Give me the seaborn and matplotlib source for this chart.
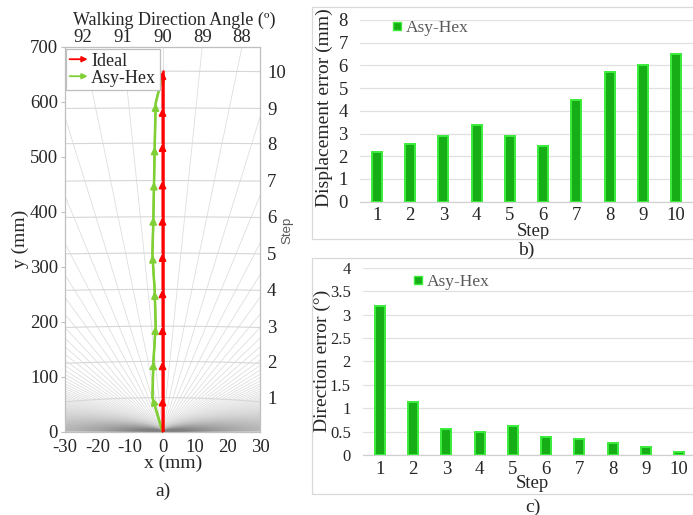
import numpy as np
import pandas as pd
import matplotlib
matplotlib.use("Agg")
import matplotlib.pyplot as plt
import seaborn as sns
from matplotlib.patches import FancyArrowPatch, Rectangle
from matplotlib.legend_handler import HandlerPatch
from matplotlib.lines import Line2D

# ---------------- data ----------------
steps = [1, 2, 3, 4, 5, 6, 7, 8, 9, 10]
ideal_x = [0, 0, 0, 0, 0, 0, 0, 0, 0, 0]
ideal_y = [62, 128, 192, 259, 325, 391, 457, 525, 589, 656]
asy_x = [-3.1, -2.8, -2.1, -2.4, -3.1, -2.8, -2.6, -2.4, -2.1, 0.2]
asy_y = [62, 128, 192, 256, 322, 391, 455, 519, 598, 652]
angle_ticks = [92, 91, 90, 89, 88]
disp_err = [2.2, 2.55, 2.9, 3.37, 2.9, 2.46, 4.46, 5.7, 6.02, 6.5]
dir_err = [3.19, 1.14, 0.55, 0.50, 0.63, 0.38, 0.35, 0.26, 0.18, 0.07]

sns.set_theme(style="white")
plt.rcParams["font.family"] = ["Liberation Serif", "DejaVu Serif"]
plt.rcParams["font.size"] = 14
plt.rcParams["axes.unicode_minus"] = False
plt.rcParams["text.color"] = "#262626"
plt.rcParams["axes.labelcolor"] = "#262626"
plt.rcParams["xtick.color"] = "#262626"
plt.rcParams["ytick.color"] = "#262626"
plt.rcParams["xtick.labelsize"] = 13.5
plt.rcParams["ytick.labelsize"] = 13.5
plt.rcParams["axes.labelsize"] = 14

W, H = 693, 515
fig = plt.figure(figsize=(W / 100, H / 100), dpi=100)


def fr(x0, y0, x1, y1):
    return [x0 / W, (H - y1) / H, (x1 - x0) / W, (y1 - y0) / H]


RED = "#ff0000"
LGREEN = "#7fcf35"
SPINE = "#bfbfbf"

# ---------------- panel a ----------------
axL = fig.add_axes(fr(65, 47, 260, 431.7))
axL.set_xlim(-30, 30)
axL.set_ylim(0, 700)

# radial angle lines and step circles (background grid)
for a in range(0, 181):
    t = np.radians(a)
    axL.plot([0, 2000 * np.cos(t)], [0, 2000 * np.sin(t)], color="#808080",
             lw=0.6, alpha=0.26, zorder=0.5)
tt = np.linspace(0, np.pi, 2000)
for r in ideal_y:
    axL.plot(r * np.cos(tt), r * np.sin(tt), color="#d6d6d6", lw=0.8, zorder=0.6)

px_i = [0] + ideal_x
py_i = [0] + ideal_y
px_a = [0] + asy_x
py_a = [0] + asy_y
sns.lineplot(x=px_a, y=py_a, sort=False, estimator=None, color=LGREEN, lw=1.8,
             ax=axL, zorder=3)
sns.lineplot(x=px_i, y=py_i, sort=False, estimator=None, color=RED, lw=1.8,
             ax=axL, zorder=4)
for xs, ys, c, z in [(px_a, py_a, LGREEN, 3), (px_i, py_i, RED, 4)]:
    for i in range(len(xs) - 1):
        axL.annotate("", xy=(xs[i + 1], ys[i + 1]), xytext=(xs[i], ys[i]),
                     arrowprops=dict(arrowstyle="-|>", color=c, lw=1.5,
                                     mutation_scale=10, shrinkA=0, shrinkB=0),
                     zorder=z)

axL.set_xticks([-30, -20, -10, 0, 10, 20, 30])
axL.set_yticks(range(0, 701, 100))
axL.set_xlabel("x (mm)")
axL.xaxis.set_label_coords((173 - 65) / 195, (431.7 - 463) / 384.7)
axL.xaxis.label.set_va("center")
axL.set_ylabel("y (mm)")
axL.yaxis.set_label_coords((20 - 65) / 195, 0.5)
axL.yaxis.label.set_va("center")
axL.tick_params(axis="y", length=3, width=0.8, color=SPINE, pad=2)
axL.tick_params(axis="x", length=0, pad=5)
for s in axL.spines.values():
    s.set_color(SPINE)
    s.set_linewidth(0.9)


class HandlerArrow(HandlerPatch):
    def create_artists(self, legend, orig_handle, xdescent, ydescent, width,
                       height, fontsize, trans):
        p = FancyArrowPatch((-xdescent, height / 2 - ydescent),
                            (width - xdescent, height / 2 - ydescent),
                            arrowstyle="-|>", mutation_scale=8, lw=1.3,
                            color=orig_handle.get_edgecolor(), shrinkA=0, shrinkB=0)
        p.set_transform(trans)
        return [p]


h1 = FancyArrowPatch((0, 0), (1, 0), color=RED)
h2 = FancyArrowPatch((0, 0), (1, 0), color=LGREEN)
leg = axL.legend([h1, h2], ["Ideal", "Asy-Hex"],
                 handler_map={FancyArrowPatch: HandlerArrow()},
                 loc="upper left", bbox_to_anchor=(0.005, 0.995), borderaxespad=0,
                 frameon=True, fancybox=False, edgecolor=SPINE, framealpha=1,
                 handlelength=1.0, handletextpad=0.2, labelspacing=0.0,
                 borderpad=0.2, fontsize=13)
leg.get_frame().set_linewidth(0.9)
leg.set_zorder(10)

axT = axL.twiny()
axT.set_xlim(-30, 30)
axT.set_xticks([700 / np.tan(np.radians(a)) for a in angle_ticks])
axT.set_xticklabels([str(a) for a in angle_ticks])
axT.tick_params(axis="x", length=0, pad=1)
axT.set_xlabel("Walking Direction Angle (º)", fontsize=13)
axT.xaxis.set_label_coords((174 - 65) / 195, (431.7 - 20) / 384.7)
axT.xaxis.label.set_va("center")
for s in axT.spines.values():
    s.set_visible(False)

axR = axL.twinx()
axR.set_ylim(0, 700)
axR.set_yticks(ideal_y)
axR.set_yticklabels([str(s) for s in steps])
axR.tick_params(axis="y", length=0, pad=5)
axR.set_ylabel("Step", family=["Liberation Sans", "DejaVu Sans"], fontsize=9.5,
               color="#595959", rotation=90)
axR.yaxis.set_label_coords((287 - 65) / 195, (431.7 - 230) / 384.7)
axR.yaxis.label.set_va("center")
for s in axR.spines.values():
    s.set_visible(False)

fig.text(163 / W, 1 - 491 / H, "a)", ha="center", va="center", fontsize=14)

# ---------------- panels b, c ----------------
BAR_FACE = "#17ad17"
BAR_EDGE = "#3cec3c"


def bar_panel(rect, values, ylim, yticks, yticklabels, ylabel, leg_xy, ytsize):
    ax = fig.add_axes(rect)
    df = pd.DataFrame({"Step": steps, "val": values})
    sns.barplot(data=df, x="Step", y="val", color=BAR_FACE, width=0.3,
                edgecolor=BAR_EDGE, linewidth=1.4, saturation=1, ax=ax,
                label="Asy-Hex", zorder=3)
    ax.set_xlim(-0.5, 9.5)
    ax.set_ylim(*ylim)
    ax.set_yticks(yticks)
    ax.set_yticklabels(yticklabels)
    ax.set_axisbelow(True)
    ax.yaxis.grid(True, color="#e0e0e0", lw=0.9)
    ax.xaxis.grid(False)
    for k in ["left", "right", "top"]:
        ax.spines[k].set_visible(False)
    ax.spines["bottom"].set_color("#d0d0d0")
    ax.spines["bottom"].set_linewidth(0.9)
    ax.set_xticks(np.arange(-0.5, 10, 1), minor=True)
    ax.tick_params(axis="x", which="major", length=0, pad=4)
    ax.tick_params(axis="x", which="minor", length=4, color="#d0d0d0", width=0.8)
    ax.tick_params(axis="y", length=0, pad=9, labelsize=ytsize)
    ax.set_ylabel(ylabel)
    ax.set_xlabel("Step", fontsize=13.5)
    ax.xaxis.label.set_va("center")
    ax.yaxis.label.set_va("center")
    lh = Line2D([0], [0], marker="s", color="none", markerfacecolor=BAR_FACE,
                markeredgecolor=BAR_EDGE, markersize=5.5)
    ax.legend([lh], ["Asy-Hex"], loc="center left", bbox_to_anchor=leg_xy,
              frameon=False, borderpad=0, borderaxespad=0, handlelength=0.6,
              handletextpad=0.2, fontsize=12.5, labelcolor="#595959")
    return ax


axB = bar_panel(fr(360.4, 20, 692.6, 201.7), disp_err, (0, 8), range(0, 9),
                [str(v) for v in range(0, 9)], "Displacement error (mm)",
                (0.095, 0.956), 13.5)
axB.yaxis.set_label_coords((324 - 360.4) / 332.2, 0.52)
axB.xaxis.set_label_coords((533 - 360.4) / 332.2, (201.7 - 231) / 181.7)

ticks_c = [0, 0.5, 1, 1.5, 2, 2.5, 3, 3.5, 4]
axC = bar_panel(fr(363.4, 267.7, 695.6, 455), dir_err, (0, 4), ticks_c,
                ["0", "0.5", "1", "1.5", "2", "2.5", "3", "3.5", "4"],
                "Direction error (°)", (0.15, 0.924), 12)
axC.yaxis.set_label_coords((322 - 363.4) / 332.2, 0.5)
axC.xaxis.set_label_coords((532 - 363.4) / 332.2, (455 - 484) / 187.3)

# chart-area borders
for (y0, y1) in [(7.3, 239), (258.3, 494.3)]:
    fig.patches.append(Rectangle((311.7 / W, (H - y1) / H), (W - 311.7 + 5) / W,
                                 (y1 - y0) / H, transform=fig.transFigure,
                                 fill=False, edgecolor="#d9d9d9", lw=0.9))

fig.text(526.7 / W, 1 - 250 / H, "b)", ha="center", va="center", fontsize=14)
fig.text(533.3 / W, 1 - 507 / H, "c)", ha="center", va="center", fontsize=14)

fig.savefig("out.png", dpi=100)
